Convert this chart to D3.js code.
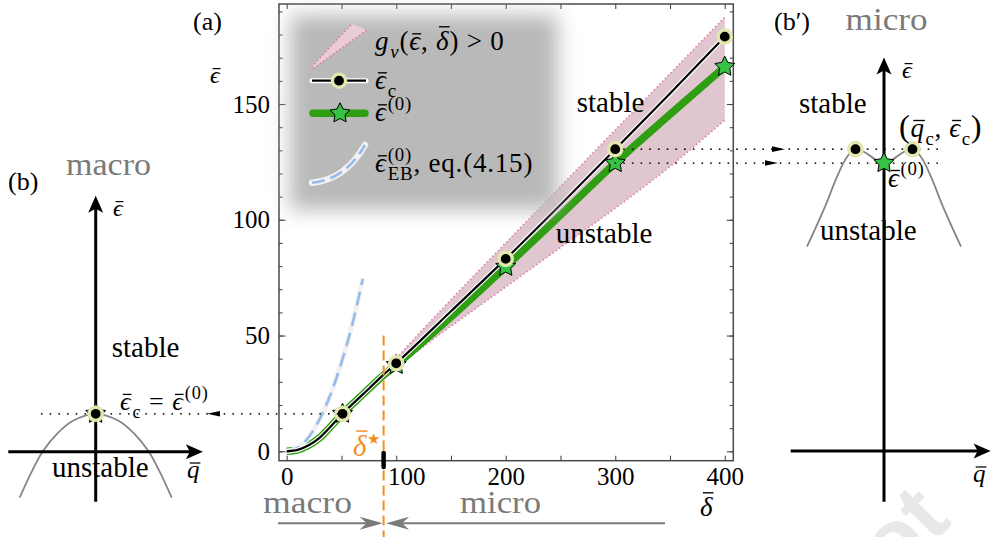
<!DOCTYPE html>
<html><head><meta charset="utf-8">
<script src="https://cdn.jsdelivr.net/npm/d3@7"></script>
<style>
html,body{margin:0;padding:0;background:#fff;}
svg{display:block;font-family:"Liberation Serif","DejaVu Serif",serif;}
</style></head><body>
<script>
// ---------- main panel (a): critical and zeroth-order energies vs. detuning ----------
const lineDelta = [0, 10, 20, 30, 40, 51, 70, 88, 100, 150, 200, 250, 300, 350, 400];
const lineEpsC  = [0, 0.6, 2.6, 5.8, 10.6, 16.2, 24.8, 32.9, 38, 60.5, 83.1, 106.5, 130.5, 154.5, 179.1];
const lineEps0  = [0, 0.6, 2.6, 5.8, 10.6, 16.2, 24.8, 32.7, 37.3, 58, 79.7, 102, 124.5, 145.5, 166.1];
const markDelta = [51, 100, 200, 300, 400];
const markEpsC  = [16.2, 38, 83.1, 130.5, 179.1];
const markEps0  = [16.2, 37.3, 79.7, 124.5, 166.1];
// region where g_nu > 0
const bandDelta = [88, 100, 150, 200, 250, 300, 350, 400];
const bandUpper = [33.5, 40, 65.5, 90, 114.4, 138.8, 163.1, 187.5];
const bandLower = [33.5, 37, 54, 71, 88, 105, 123, 143];
// small-detuning estimate, eq.(4.15)
const ebDelta = [0, 10, 20, 30, 40, 50, 60, 69.5];
const ebEps   = [0, 1.5, 6.1, 13.8, 24.5, 38.3, 55, 74.5];
const deltaStar = 88.5;
const xTickLabels = [0, 100, 200, 300, 400];
const yTickLabels = [0, 50, 100, 150];

// ---------- schematic insets (b) macro and (b') micro ----------
const macroQ   = [-1, -0.85, -0.7, -0.5, -0.3, 0, 0.3, 0.5, 0.7, 0.85, 1];
const macroEps = [-1.214, -0.56, 0, 0.49, 0.816, 1, 0.816, 0.49, 0, -0.56, -1.214];
const microQ   = [-1, -0.77, -0.6, -0.47, -0.37, -0.25, -0.12, 0, 0.12, 0.25, 0.37, 0.47, 0.6, 0.77, 1];
const microEps = [0.677, 0.807, 0.915, 0.978, 1, 0.99, 0.967, 0.951, 0.967, 0.99, 1, 0.978, 0.915, 0.807, 0.677];
const microQc  = 0.37;

const W = 991, H = 537;
const FONT = '"Liberation Serif","DejaVu Serif",serif';
const svg = d3.select('body').append('svg').attr('width', W).attr('height', H);
const defs = svg.append('defs');
defs.append('filter').attr('id', 'soft').attr('x', '-30%').attr('y', '-30%')
  .attr('width', '160%').attr('height', '160%')
  .append('feGaussianBlur').attr('stdDeviation', 10);

// faint watermark
svg.append('text').attr('transform', 'translate(953,523) rotate(-45)')
  .attr('text-anchor', 'end').attr('font-family', '"Liberation Sans",Arial,sans-serif')
  .attr('font-weight', 'bold').attr('font-size', 88).attr('fill', '#e8e8e8').text('not');

// ---------- helpers ----------
function mtext(g, x, y, parts, size, fill, ls) {
  fill = fill || '#000';
  const t = g.append('text').attr('x', x).attr('y', y).attr('font-size', size).attr('fill', fill);
  if (ls) t.attr('letter-spacing', ls);
  let cur = 0, idx = 0;
  const bars = [];
  for (const p of parts) {
    const off = p.sub ? size * 0.3 : p.sup ? -size * 0.42 : 0;
    const fs = ((p.sub || p.sup) ? size * 0.7 : size) * (p.s || 1);
    let ts;
    if (p.sup && p.under) {
      ts = t.append('tspan').attr('dy', off - cur).attr('dx', 1).attr('font-size', fs).text(p.t);
      const L = ts.node().getComputedTextLength();
      const subOff = size * 0.3;
      t.append('tspan').attr('dx', -L).attr('dy', subOff - off).attr('font-size', fs).text(p.under);
      cur = subOff;
      idx += p.t.length + p.under.length;
      continue;
    }
    ts = t.append('tspan').attr('dy', off - cur).attr('font-size', fs).text(p.t);
    if (p.sub || p.sup) ts.attr('dx', 1);
    cur = off;
    if (p.i) ts.attr('font-style', 'italic');
    if (p.b) bars.push({ i: idx, n: p.t.length, off, fs, tall: !!p.tall, it: !!p.i });
    idx += p.t.length;
  }
  const node = t.node();
  for (const b of bars) {
    const e1 = node.getExtentOfChar(b.i), e2 = node.getExtentOfChar(b.i + b.n - 1);
    const sk = b.it ? 0.12 * b.fs : 0;
    const yy = y + b.off - b.fs * (b.tall ? 0.86 : 0.6);
    g.append('line').attr('x1', e1.x + sk * 0.9).attr('x2', e2.x + e2.width + sk * 0.3 - (ls || 0))
      .attr('y1', yy).attr('y2', yy).attr('stroke', fill).attr('stroke-width', Math.max(1, b.fs * 0.05));
  }
  return t;
}
function plain(g, x, y, str, size, fill, len) {
  const t = g.append('text').attr('x', x).attr('y', y).attr('font-size', size)
    .attr('fill', fill || '#000').text(str);
  if (len) t.attr('textLength', len).attr('lengthAdjust', 'spacingAndGlyphs');
  return t;
}
function starPath(r, inner) {
  const p = d3.path();
  for (let k = 0; k < 10; k++) {
    const a = -Math.PI / 2 + k * Math.PI / 5, rr = k % 2 ? r * inner : r;
    const px = rr * Math.cos(a), py = rr * Math.sin(a);
    if (k) p.lineTo(px, py); else p.moveTo(px, py);
  }
  p.closePath();
  return p.toString();
}
function drawStar(g, cx, cy) {
  g.append('path').attr('d', starPath(10.5, 0.5)).attr('transform', `translate(${cx},${cy})`)
    .attr('fill', '#36c244').attr('stroke', '#000').attr('stroke-width', 1).attr('stroke-linejoin', 'round');
}
function drawDot(g, cx, cy) {
  g.append('circle').attr('cx', cx).attr('cy', cy).attr('r', 6.6)
    .attr('fill', '#000').attr('stroke', '#e3e6ad').attr('stroke-width', 3.4);
}
// swept arrowhead with its tip at (x,y), pointing along angle (deg)
function arrowHead(g, x, y, angle, len, half, notch, fill) {
  const p = d3.path();
  p.moveTo(0, 0); p.lineTo(-len, -half); p.lineTo(-len + notch, 0); p.lineTo(-len, half); p.closePath();
  g.append('path').attr('d', p.toString()).attr('fill', fill)
    .attr('transform', `translate(${x},${y}) rotate(${angle})`);
}

// ---------- main panel scales ----------
const frame = { left: 279, right: 733.3, top: 4, bottom: 460.7 };
const x = d3.scaleLinear().domain([-7.03, 407.8]).range([frame.left, frame.right]);
const y = d3.scaleLinear().domain([-4.06, 193.2]).range([frame.bottom, frame.top]);

const main = svg.append('g');
main.append('rect').attr('x', frame.left).attr('y', frame.top)
  .attr('width', frame.right - frame.left).attr('height', frame.bottom - frame.top)
  .attr('fill', 'none').attr('stroke', '#4a4a4a').attr('stroke-width', 1.5);

function styleAxis(g) {
  g.select('.domain').remove();
  g.attr('font-family', FONT).attr('font-size', 25);
  g.selectAll('line').attr('stroke', '#4a4a4a').attr('stroke-width', 1.1);
  g.selectAll('text').attr('fill', '#000').filter(function () { return this.textContent === ''; }).remove();
}
const gxB = main.append('g').attr('transform', `translate(0,${frame.bottom})`)
  .call(d3.axisBottom(x).tickValues(d3.range(0, 401, 50)).tickSize(-5)
    .tickFormat(d => xTickLabels.includes(d) ? d : ''));
styleAxis(gxB);
gxB.selectAll('text').attr('dy', null).attr('y', 24.3);
gxB.selectAll('.tick').filter(d => d === 100).select('text').attr('dx', 10);
const gxT = main.append('g').attr('transform', `translate(0,${frame.top})`)
  .call(d3.axisTop(x).tickValues(d3.range(0, 401, 50)).tickSize(-5).tickFormat(''));
styleAxis(gxT);
const gyL = main.append('g').attr('transform', `translate(${frame.left},0)`)
  .call(d3.axisLeft(y).tickValues(yTickLabels).tickSize(-6.5).tickPadding(9));
styleAxis(gyL);
const gyLm = main.append('g').attr('transform', `translate(${frame.left},0)`)
  .call(d3.axisLeft(y).tickValues(d3.range(0, 191, 10)).tickSize(-3.5).tickFormat(''));
styleAxis(gyLm);
const gyR = main.append('g').attr('transform', `translate(${frame.right},0)`)
  .call(d3.axisRight(y).tickValues(yTickLabels).tickSize(-6.5).tickFormat(''));
styleAxis(gyR);
const gyRm = main.append('g').attr('transform', `translate(${frame.right},0)`)
  .call(d3.axisRight(y).tickValues(d3.range(0, 191, 10)).tickSize(-3.5).tickFormat(''));
styleAxis(gyRm);

// ---------- legend (soft grey panel) ----------
const lg = svg.append('g');
lg.append('rect').attr('x', 290).attr('y', 15).attr('width', 268).attr('height', 195)
  .attr('fill', '#b9b9b9').attr('filter', 'url(#soft)');
lg.append('path').attr('d', 'M311.7,66.7 L351.7,24 L366.7,30 L313.3,68.3 Z').attr('fill', '#e9ccd5');
lg.append('path').attr('d', 'M311.7,66.7 L351.7,24 M313.3,68.3 L366.7,30')
  .attr('stroke', '#e07ca0').attr('stroke-width', 1.6).attr('stroke-dasharray', '1.4,2.6').attr('fill', 'none');
lg.append('line').attr('x1', 312).attr('x2', 366).attr('y1', 80.7).attr('y2', 80.7)
  .attr('stroke', '#fff').attr('stroke-width', 5).attr('stroke-linecap', 'round');
lg.append('line').attr('x1', 312).attr('x2', 366).attr('y1', 80.7).attr('y2', 80.7)
  .attr('stroke', '#000').attr('stroke-width', 2.2);
drawDot(lg, 339, 80.7);
lg.append('line').attr('x1', 313).attr('x2', 365).attr('y1', 113.3).attr('y2', 113.3)
  .attr('stroke', '#2f9e12').attr('stroke-width', 7.5).attr('stroke-linecap', 'round');
drawStar(lg, 340, 113.3);
lg.append('path').attr('d', 'M312,182.7 Q345,180 365,145').attr('fill', 'none')
  .attr('stroke', '#f2f2f2').attr('stroke-width', 6.5).attr('stroke-linecap', 'round');
lg.append('path').attr('d', 'M312,182.7 Q345,180 365,145').attr('fill', 'none')
  .attr('stroke', '#98bbec').attr('stroke-width', 2.6).attr('stroke-dasharray', '13,6');
mtext(lg, 375, 50, [{ t: 'g', i: 1 }, { t: 'ν', i: 1, sub: 1 }, { t: '(' }, { t: 'ϵ', i: 1, b: 1 },
  { t: ', ' }, { t: 'δ', i: 1, b: 1, tall: 1 }, { t: ') > 0' }], 27, null, 0.8);
mtext(lg, 375, 89, [{ t: 'ϵ', i: 1, b: 1 }, { t: 'c', sub: 1 }], 27, null, 0.8);
mtext(lg, 375, 121, [{ t: 'ϵ', i: 1, b: 1 }, { t: '(0)', sup: 1 }], 27, null, 0.8);
mtext(lg, 375, 172, [{ t: 'ϵ', i: 1, b: 1 }, { t: '(0)', sup: 1, under: 'EB' }, { t: ',  eq.(4.15)' }], 27, null, 0.8);

// ---------- curves ----------
const band = bandDelta.map((d, k) => ({ d, lo: bandLower[k], hi: bandUpper[k] }));
main.append('path').datum(band).attr('fill', '#dfc6cf')
  .attr('d', d3.area().x(p => x(p.d)).y0(p => y(p.lo)).y1(p => y(p.hi)).curve(d3.curveMonotoneX));
['hi', 'lo'].forEach(k => {
  main.append('path').datum(band).attr('fill', 'none').attr('stroke', '#e07ca0')
    .attr('stroke-width', 1.6).attr('stroke-dasharray', '1.4,2.6')
    .attr('d', d3.line().x(p => x(p.d)).y(p => y(p[k])).curve(d3.curveMonotoneX));
});
const lineC = lineDelta.map((d, k) => ({ d, e: lineEpsC[k] }));
const line0 = lineDelta.map((d, k) => ({ d, e: lineEps0[k] }));
const lineEB = ebDelta.map((d, k) => ({ d, e: ebEps[k] }));
const gen = d3.line().x(p => x(p.d)).y(p => y(p.e)).curve(d3.curveMonotoneX);
main.append('path').datum(line0).attr('d', gen).attr('fill', 'none')
  .attr('stroke', '#2f9e12').attr('stroke-width', 7.5);
main.append('path').datum(lineEB).attr('d', gen).attr('fill', 'none')
  .attr('stroke', '#f2f2f2').attr('stroke-width', 5);
main.append('path').datum(lineEB).attr('d', gen).attr('fill', 'none')
  .attr('stroke', '#98bbec').attr('stroke-width', 2.6).attr('stroke-dasharray', '14,7');
main.append('path').datum(lineC).attr('d', gen).attr('fill', 'none')
  .attr('stroke', '#fff').attr('stroke-width', 4.6);
main.append('path').datum(lineC).attr('d', gen).attr('fill', 'none')
  .attr('stroke', '#000').attr('stroke-width', 2.2);

// ---------- dotted guides to the insets ----------
const guide = svg.append('g').attr('stroke', '#111').attr('stroke-width', 1.8)
  .attr('stroke-dasharray', '0.1,8.6').attr('stroke-linecap', 'round').attr('fill', 'none');
guide.append('line').attr('x1', 41.7).attr('x2', x(markDelta[0])).attr('y1', y(markEpsC[0])).attr('y2', y(markEpsC[0]));
guide.append('line').attr('x1', x(markDelta[3])).attr('x2', 943).attr('y1', y(markEpsC[3])).attr('y2', y(markEpsC[3]));
guide.append('line').attr('x1', x(markDelta[3])).attr('x2', 943).attr('y1', y(markEps0[3])).attr('y2', y(markEps0[3]));
arrowHead(svg, 207, y(markEpsC[0]), 180, 13, 2.8, 0, '#000');
arrowHead(svg, 785, y(markEpsC[3]), 0, 13, 2.8, 0, '#000');
arrowHead(svg, 778, y(markEps0[3]), 0, 13, 2.8, 0, '#000');

// markers
markDelta.forEach((d, k) => drawStar(main, x(d), y(markEps0[k])));
markDelta.forEach((d, k) => drawDot(main, x(d), y(markEpsC[k])));

// ---------- macro / micro regime arrows and threshold ----------
const xs = x(deltaStar);
svg.append('line').attr('x1', 278).attr('x2', xs - 6).attr('y1', 523.3).attr('y2', 523.3)
  .attr('stroke', '#7a7a7a').attr('stroke-width', 2);
arrowHead(svg, xs - 1, 523.3, 0, 23, 6.5, 7, '#7a7a7a');
svg.append('line').attr('x1', 665).attr('x2', xs + 9).attr('y1', 523.3).attr('y2', 523.3)
  .attr('stroke', '#7a7a7a').attr('stroke-width', 2);
arrowHead(svg, xs + 2.5, 523.3, 180, 23, 6.5, 7, '#7a7a7a');
svg.append('line').attr('x1', xs).attr('x2', xs).attr('y1', y(50)).attr('y2', H)
  .attr('stroke', '#f28e1c').attr('stroke-width', 2).attr('stroke-dasharray', '10,5');
svg.append('line').attr('x1', xs).attr('x2', xs).attr('y1', 453).attr('y2', 467)
  .attr('stroke', '#000').attr('stroke-width', 4.5).attr('stroke-linecap', 'round');
mtext(svg, 353, 456, [{ t: 'δ', i: 1, b: 1, tall: 1 }, { t: '★', sup: 1, s: 0.75 }], 29, '#f28e1c');

// main labels
plain(svg, 193, 30, '(a)', 26);
mtext(svg, 210, 83, [{ t: 'ϵ', i: 1, b: 1 }], 24);
mtext(svg, 700, 516, [{ t: 'δ', i: 1, b: 1, tall: 1 }], 27);
plain(svg, 576.7, 111.7, 'stable', 29);
plain(svg, 555.7, 243.3, 'unstable', 29);
plain(svg, 263, 513, 'macro', 31, '#7a7a7a', 89);
plain(svg, 460, 513, 'micro', 31, '#7a7a7a', 81);

// ---------- inset (b): macro ----------
const qL = d3.scaleLinear().domain([-1, 1]).range([19.7, 171.7]);
const eL = d3.scaleLinear().domain([0, 1]).range([451.7, y(markEpsC[0])]);
const bL = svg.append('g');
bL.append('path').datum(macroQ.map((q, k) => ({ q, e: macroEps[k] })))
  .attr('d', d3.line().x(p => qL(p.q)).y(p => eL(p.e)).curve(d3.curveCatmullRom))
  .attr('fill', 'none').attr('stroke', '#858585').attr('stroke-width', 1.8);
bL.append('line').attr('x1', qL(-1.15)).attr('x2', qL(1.41) - 8).attr('y1', eL(0)).attr('y2', eL(0))
  .attr('stroke', '#000').attr('stroke-width', 3);
bL.append('line').attr('x1', qL(0)).attr('x2', qL(0)).attr('y1', eL(-1.32)).attr('y2', eL(6.75) + 8)
  .attr('stroke', '#000').attr('stroke-width', 3);
arrowHead(bL, qL(1.41), eL(0), 0, 17, 7.5, 4, '#000');
arrowHead(bL, qL(0), eL(6.75), -90, 17, 7.5, 4, '#000');
drawStar(bL, qL(0), eL(1));
drawDot(bL, qL(0), eL(1));
plain(bL, 8, 190, '(b)', 26);
plain(bL, 66, 175, 'macro', 31, '#7a7a7a', 85);
mtext(bL, 113, 216, [{ t: 'ϵ', i: 1, b: 1 }], 24);
plain(bL, 111.7, 356.7, 'stable', 29);
mtext(bL, 120, 410, [{ t: 'ϵ', i: 1, b: 1 }, { t: 'c', sub: 1 }, { t: ' = ' }, { t: 'ϵ', i: 1, b: 1 }, { t: '(0)', sup: 1 }], 26, null, 1);
plain(bL, 52, 476.7, 'unstable', 29);
mtext(bL, 187, 478, [{ t: 'q', i: 1, b: 1 }], 25);

// ---------- inset (b'): micro ----------
const qR = d3.scaleLinear().domain([-1, 1]).range([807, 961]);
const eR = d3.scaleLinear().domain([0, 1]).range([451, y(markEpsC[3])]);
const bR = svg.append('g');
bR.append('path').datum(microQ.map((q, k) => ({ q, e: microEps[k] })))
  .attr('d', d3.line().x(p => qR(p.q)).y(p => eR(p.e)).curve(d3.curveCatmullRom))
  .attr('fill', 'none').attr('stroke', '#858585').attr('stroke-width', 1.8);
bR.append('line').attr('x1', qR(-1.212)).attr('x2', qR(1.385) - 8).attr('y1', eR(0)).attr('y2', eR(0))
  .attr('stroke', '#000').attr('stroke-width', 3);
bR.append('line').attr('x1', qR(0)).attr('x2', qR(0)).attr('y1', eR(-0.168)).attr('y2', eR(1.304) + 8)
  .attr('stroke', '#000').attr('stroke-width', 3);
arrowHead(bR, qR(1.385), eR(0), 0, 17, 7.5, 4, '#000');
arrowHead(bR, qR(0), eR(1.304), -90, 17, 7.5, 4, '#000');
drawDot(bR, qR(-microQc), eR(1));
drawDot(bR, qR(microQc), eR(1));
drawStar(bR, qR(0), y(markEps0[3]));
plain(bR, 774, 30, '(b′)', 26);
plain(bR, 845.6, 30, 'micro', 31, '#7a7a7a', 82);
mtext(bR, 902, 78, [{ t: 'ϵ', i: 1, b: 1 }], 24);
plain(bR, 799, 112.7, 'stable', 29);
mtext(bR, 899, 136.7, [{ t: '(', s: 1.2 }, { t: 'q', i: 1, b: 1 }, { t: 'c', sub: 1 }, { t: ', ' },
  { t: 'ϵ', i: 1, b: 1 }, { t: 'c', sub: 1 }, { t: ')', s: 1.2 }], 27, null, 0.6);
mtext(bR, 888, 186.7, [{ t: 'ϵ', i: 1, b: 1 }, { t: '(0)', sup: 1 }], 27, null, 0.6);
plain(bR, 820, 240, 'unstable', 29);
mtext(bR, 973, 482, [{ t: 'q', i: 1, b: 1 }], 25);
</script>
</body></html>
